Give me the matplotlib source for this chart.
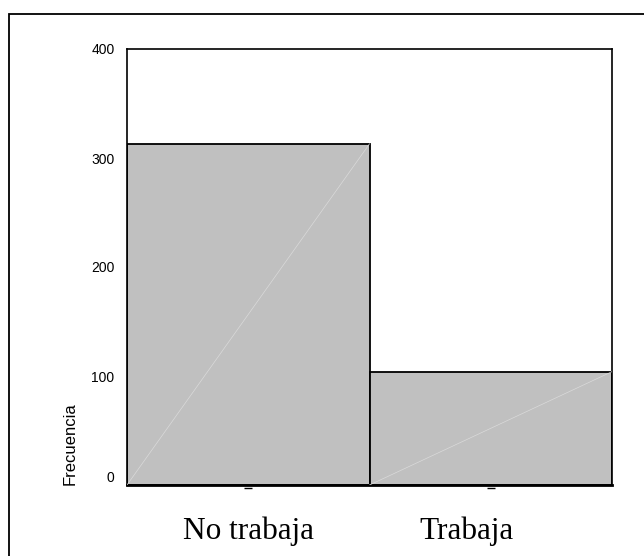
import numpy as np
import matplotlib.pyplot as plt
from matplotlib.patches import Rectangle
import matplotlib.transforms as mtransforms

categorias = ["No trabaja", "Trabaja"]
frecuencias = [313, 104]
yticks = [0, 100, 200, 300, 400]

fig = plt.figure(figsize=(6.44, 5.56), dpi=100)
ax = fig.add_axes([127 / 644, 1 - 485 / 556, 485 / 644, 436 / 556])

x = np.arange(len(categorias))
ax.bar(x, frecuencias, width=1.0, color="#c0c0c0", edgecolor="black", linewidth=1.3, zorder=2)

# diagonal clara dentro de cada barra
for xi, h in zip(x, frecuencias):
    ax.plot([xi - 0.5, xi + 0.5], [0, h], color="#dadada", lw=0.5, zorder=3)

ax.set_xlim(-0.5, 1.5)
ax.set_ylim(0, 400)
ax.set_yticks(yticks)
ax.set_yticklabels([str(v) for v in yticks], fontsize=10, family="Liberation Sans")
ax.tick_params(axis="y", length=0, pad=9)
ax.get_yticklabels()[0].set_va("bottom")

ax.set_xticks([])
# marcas cortas bajo cada barra
trans = mtransforms.blended_transform_factory(ax.transData, ax.transAxes)
ax.plot(x, [-0.008] * len(x), ls="none", marker="_", ms=6, mew=1.0, color="black",
        transform=trans, clip_on=False)

# etiquetas de categoria en Times
label_x = [0, 0.9]
for lx, lab in zip(label_x, categorias):
    ax.text(lx, -0.105, lab, transform=trans, ha="center", va="center",
            fontsize=22.5, family="Liberation Serif")

ax.set_ylabel("Frecuencia", fontsize=12, family="Liberation Sans", loc="bottom", labelpad=10)

for s in ["left", "top", "right"]:
    ax.spines[s].set_linewidth(1.2)
ax.spines["bottom"].set_linewidth(2.0)

# marco exterior
fig.patches.append(Rectangle((9 / 644, -0.1), 1.2, 1.1 - 14 / 556,
                             transform=fig.transFigure, fill=False,
                             edgecolor="black", linewidth=1.3))

fig.savefig("out.png", dpi=100)
